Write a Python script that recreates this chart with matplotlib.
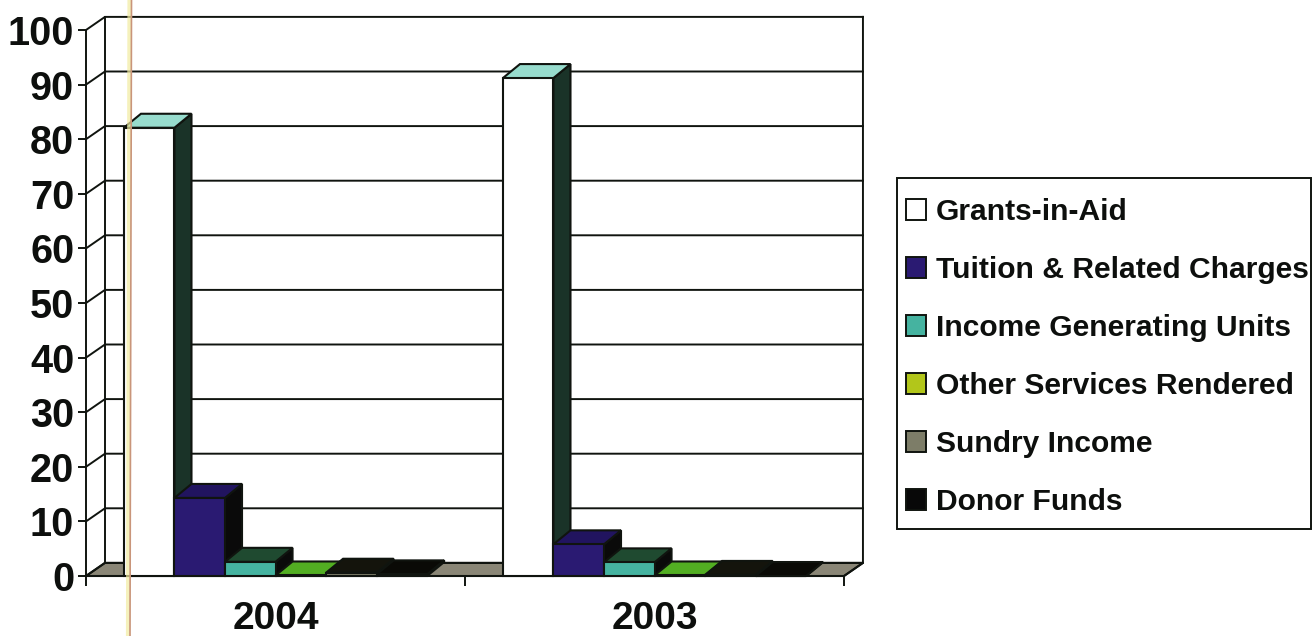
import matplotlib
matplotlib.use("Agg")
import matplotlib.pyplot as plt
from matplotlib.patches import Polygon, Patch, Rectangle
from matplotlib.lines import Line2D

plt.rcParams['font.family'] = ['Liberation Sans', 'DejaVu Sans']
plt.rcParams['font.weight'] = 'bold'
plt.rcParams['text.color'] = '#0d0f0d'
plt.rcParams['ytick.labelcolor'] = '#0d0f0d'
plt.rcParams['xtick.labelcolor'] = '#0d0f0d'

# Data
years = ['2004', '2003']
series_names = ['Grants-in-Aid', 'Tuition & Related Charges', 'Income Generating Units',
                'Other Services Rendered', 'Sundry Income', 'Donor Funds']
grants = [82.1, 91.2]
tuition = [14.3, 5.8]
income_units = [2.6, 2.5]
other_services = [0.1, 0.1]
sundry = [0.6, 0.2]
donor = [0.3, 0.0]
all_series = [grants, tuition, income_units, other_services, sundry, donor]

# Face colours of each bar: front, top, side
front_colors = ['#ffffff', '#2a1a72', '#45b3a0', '#b2c61a', '#7d7d68', '#080808']
top_colors = ['#97dccd', '#21145f', '#1f4a30', '#52ae22', '#14140c', '#0a0a06']
side_colors = ['#1a3328', '#0a0a0a', '#0a0a0a', '#0a0a0a', '#0a0a0a', '#0a0a0a']
floor_color = '#8a8676'
edge = '#10140f'

# 3D look: how far the back plane is shifted, in data units
wall_dx, wall_dy = 0.05, 2.4
bar_dx, bar_dy = 0.045, 2.56
gap = 0.1
bar_width = (1 - 2 * gap) / len(all_series)

fig = plt.figure(figsize=(13.12, 6.36), dpi=100)
ax = fig.add_axes([86 / 1312, 1 - 576 / 636, 758 / 1312, 546 / 636])
ax.set_xlim(0, 2)
ax.set_ylim(0, 100)
ax.patch.set_visible(False)


def face(points, color, z, lw=1.5):
    ax.add_patch(Polygon(points, closed=True, facecolor=color, edgecolor=edge,
                         linewidth=lw, clip_on=False, zorder=z, joinstyle='miter'))


# Floor and back wall
face([(0, 0), (wall_dx, wall_dy), (2 + wall_dx, wall_dy), (2, 0)], floor_color, 1)
for v in range(0, 101, 10):
    ax.plot([0, wall_dx, 2 + wall_dx], [v, v + wall_dy, v + wall_dy], color=edge,
            lw=1.4, clip_on=False, zorder=1.5, solid_joinstyle='miter')
ax.plot([wall_dx, wall_dx], [wall_dy, 100 + wall_dy], color=edge, lw=1.4, clip_on=False, zorder=1.5)
ax.plot([2 + wall_dx, 2 + wall_dx, 2], [100 + wall_dy, wall_dy, 0], color=edge, lw=1.4,
        clip_on=False, zorder=1.5)

# Bars, left to right so each one covers the side of the one before it
z = 2
for g in range(len(years)):
    for s, values in enumerate(all_series):
        v = values[g]
        x0 = g + gap + s * bar_width
        x1 = x0 + bar_width
        face([(x1, 0), (x1 + bar_dx, bar_dy), (x1 + bar_dx, v + bar_dy), (x1, v)], side_colors[s], z)
        face([(x0, v), (x0 + bar_dx, v + bar_dy), (x1 + bar_dx, v + bar_dy), (x1, v)], top_colors[s], z + 0.1)
        face([(x0, 0), (x1, 0), (x1, v), (x0, v)], front_colors[s], z + 0.2)
        z += 0.5

# Axes
for name in ['top', 'right']:
    ax.spines[name].set_visible(False)
for name in ['left', 'bottom']:
    ax.spines[name].set_linewidth(1.4)
    ax.spines[name].set_color(edge)
    ax.spines[name].set_zorder(50)
ax.set_yticks(range(0, 101, 10))
ax.tick_params(axis='y', length=5.5, width=1.4, labelsize=28.5, pad=3, color=edge)
ax.set_xticks([0, 1, 2])
ax.set_xticklabels([])
ax.tick_params(axis='x', length=7, width=1.4, color=edge)
ax.set_xticks([0.5, 1.5], minor=True)
ax.set_xticklabels(years, minor=True, fontsize=28)
ax.tick_params(axis='x', which='minor', length=0, pad=18)

# Legend: box drawn separately so the row spacing and side margin stay independent
fig.add_artist(Rectangle((897 / 1312, 1 - 529 / 636), 414 / 1312, 351 / 636, transform=fig.transFigure,
                         facecolor='white', edgecolor=edge, linewidth=1.4, zorder=5))
handles = [Patch(facecolor=c, edgecolor=edge, linewidth=1.4, label=n)
           for c, n in zip(front_colors, series_names)]
leg = fig.legend(handles=handles, loc='upper left', bbox_to_anchor=(906 / 1312, 1 - 198 / 636),
                 frameon=False, handlelength=0.667, handleheight=0.667, handletextpad=0.33,
                 labelspacing=1.0, borderpad=0, borderaxespad=0, prop={'size': 21.6, 'weight': 'bold'})
leg.set_zorder(6)

# Scanner streak running the full height of the page
fig.add_artist(Line2D([129.5 / 1312, 128 / 1312], [1, 0], color='#f2eca0', lw=3, alpha=0.7, zorder=60))
fig.add_artist(Line2D([131.5 / 1312, 130 / 1312], [1, 0], color='#c9957a', lw=1.2, zorder=61))

fig.savefig("out.png", dpi=100)
